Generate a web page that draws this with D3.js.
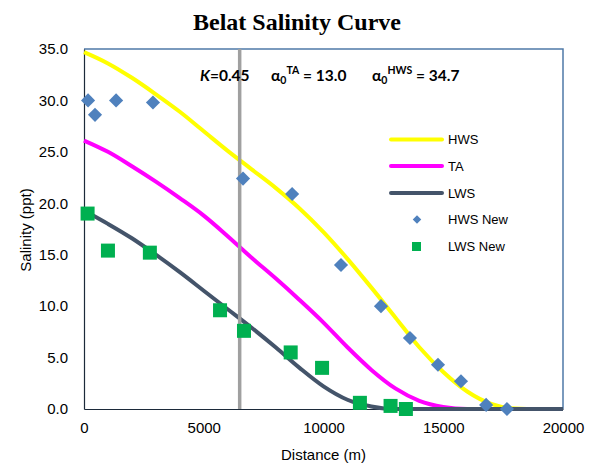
<!DOCTYPE html>
<html>
<head>
<meta charset="utf-8">
<script src="https://cdn.jsdelivr.net/npm/d3@7"></script>
<style>
  html, body { margin: 0; padding: 0; background: #fff; }
  svg { display: block; }
</style>
</head>
<body>
<svg id="chart" width="593" height="465"></svg>
<script>
// ---- data ----
const distances = [0,1000,2000,3000,4000,5000,6000,7000,8000,9000,10000,11000,12000,13000,14000,15000,16000,17000,18000,19000,20000];
const hwsCurve = [34.7,33.6,32.2,30.6,28.9,27.0,25.1,23.3,21.5,19.5,17.2,14.6,11.8,8.9,6.0,3.6,1.7,0.5,0.05,0,0];
const taCurve  = [26.1,25.0,23.6,22.1,20.5,18.8,16.8,14.7,12.7,10.6,8.4,6.0,3.8,2.0,0.8,0.2,0,0,0,0,0];
const lwsCurve = [19.3,18.0,16.6,15.0,13.3,11.5,9.7,7.9,6.0,4.0,2.2,0.9,0.25,0,0,0,0,0,0,0,0];

const hwsNewX = [170,460,1340,2880,6640,8690,10730,12400,13610,14780,15740,16790,17660];
const hwsNewY = [30.0,28.6,30.0,29.8,22.4,20.9,14.0,10.0,6.9,4.3,2.7,0.4,0.0];
const lwsNewX = [150,1000,2750,5680,6680,8630,9940,11520,12800,13440];
const lwsNewY = [19.0,15.4,15.2,9.6,7.6,5.5,4.0,0.6,0.3,0.0];

const yTicks = [0,5,10,15,20,25,30,35];
const xTicks = [0,5000,10000,15000,20000];
const markerDistance = 6500;
const kValue = "0.45";
const alphaTA = "13.0";
const alphaHWS = "34.7";
const legendNames = ["HWS","TA","LWS","HWS New","LWS New"];

// ---- layout ----
const svg = d3.select("#chart");
const L = 84, R = 563, T = 49, B = 409;
const x = d3.scaleLinear().domain([0,20000]).range([L,R]);
const y = d3.scaleLinear().domain([0,35]).range([B,T]);
const sans = "'Liberation Sans', Arial, sans-serif";

// title
svg.append("text").attr("x", 297).attr("y", 30).attr("text-anchor","middle")
  .attr("font-family","'Liberation Serif', 'Times New Roman', serif").attr("font-weight","bold")
  .attr("font-size", 24).text("Belat Salinity Curve");

// frame: top/right
svg.append("path").attr("d", `M${L},${T}H${R}V${B}`).attr("fill","none")
  .attr("stroke","#4f79a8").attr("stroke-width",1.5);

// axes
const yAxis = d3.axisLeft(y).tickValues(yTicks).tickFormat(d3.format(".1f")).tickSize(0).tickPadding(16);
const gy = svg.append("g").attr("transform",`translate(${L},0)`).call(yAxis);
gy.select(".domain").attr("stroke","#1c2a3a").attr("stroke-width",1.2);
gy.selectAll("text").attr("font-family",sans).attr("font-size",15).attr("fill","#000");

const xAxis = d3.axisBottom(x).tickValues(xTicks).tickFormat(d3.format("d")).tickSize(0).tickPadding(13);
const gx = svg.append("g").attr("transform",`translate(0,${B})`).call(xAxis);
gx.select(".domain").attr("stroke","#1c2a3a").attr("stroke-width",1.2);
gx.selectAll("text").attr("font-family",sans).attr("font-size",15).attr("fill","#000");

// axis titles
svg.append("text").attr("x", (L+R)/2).attr("y", 460).attr("text-anchor","middle")
  .attr("font-family",sans).attr("font-size",15).text("Distance (m)");
svg.append("text").attr("transform","translate(31,230) rotate(-90)").attr("text-anchor","middle")
  .attr("font-family",sans).attr("font-size",15).text("Salinity (ppt)");

// curves
const line = d3.line().x((d,i)=>x(distances[i])).y(d=>y(d)).curve(d3.curveMonotoneX);
const curves = [
  {v: taCurve, c: "#ff00ff"},
  {v: hwsCurve, c: "#ffff00"},
  {v: lwsCurve, c: "#44546a"}
];
curves.forEach(s => {
  svg.append("path").datum(s.v).attr("d", line).attr("fill","none")
    .attr("stroke", s.c).attr("stroke-width", 4).attr("stroke-linejoin","round");
});

// vertical marker line
svg.append("line").attr("x1", x(markerDistance)).attr("x2", x(markerDistance))
  .attr("y1", T).attr("y2", B).attr("stroke","#a0a0a0").attr("stroke-width",3.5);

// markers
const diamond = d3.symbol().type(d3.symbolSquare).size(100);
svg.append("g").selectAll("path").data(hwsNewX).join("path")
  .attr("d", diamond)
  .attr("transform",(d,i)=>`translate(${x(d)},${y(hwsNewY[i])}) rotate(45)`)
  .attr("fill","#4f81bd");
svg.append("g").selectAll("rect").data(lwsNewX).join("rect")
  .attr("x", d=>x(d)-7).attr("y",(d,i)=>y(lwsNewY[i])-7)
  .attr("width",14).attr("height",14).attr("fill","#00b050");

// annotation
const annFont = "Lato, 'Open Sans', sans-serif";
const t1 = svg.append("text").attr("x",200).attr("y",81).attr("font-family",annFont)
  .attr("font-weight","bold").attr("font-size",15.5);
t1.append("tspan").attr("font-style","italic").text("K");
t1.append("tspan").text("=" + kValue);

function alphaLabel(x0, sup, val) {
  const t = svg.append("text").attr("x",x0).attr("y",81).attr("font-family",annFont)
    .attr("font-weight","bold").attr("font-size",15.5);
  t.append("tspan").text("α");
  t.append("tspan").attr("font-size",10.5).attr("dy",3).text("0");
  t.append("tspan").attr("font-size",10.5).attr("dy",-10.5).text(sup);
  t.append("tspan").attr("dy",7.5).text(" = " + val);
}
alphaLabel(271, "TA", alphaTA);
alphaLabel(372, "HWS", alphaHWS);

// legend
const lg = svg.append("g").attr("font-family",sans).attr("font-size",13);
const legY = [139.5, 166, 193, 219.5, 246.5];
const legColors = ["#ffff00","#ff00ff","#44546a"];
legendNames.forEach((n,i) => {
  if (i < 3) {
    lg.append("line").attr("x1",391).attr("x2",442).attr("y1",legY[i]).attr("y2",legY[i])
      .attr("stroke",legColors[i]).attr("stroke-width",4).attr("stroke-linecap","round");
  } else if (i === 3) {
    lg.append("path").attr("d", d3.symbol().type(d3.symbolSquare).size(36))
      .attr("transform",`translate(417,${legY[i]}) rotate(45)`).attr("fill","#4f81bd");
  } else {
    lg.append("rect").attr("x",412).attr("y",legY[i]-4.5).attr("width",9).attr("height",9).attr("fill","#00b050");
  }
  lg.append("text").attr("x",448).attr("y",legY[i]+4.5).text(n);
});
</script>
</body>
</html>
